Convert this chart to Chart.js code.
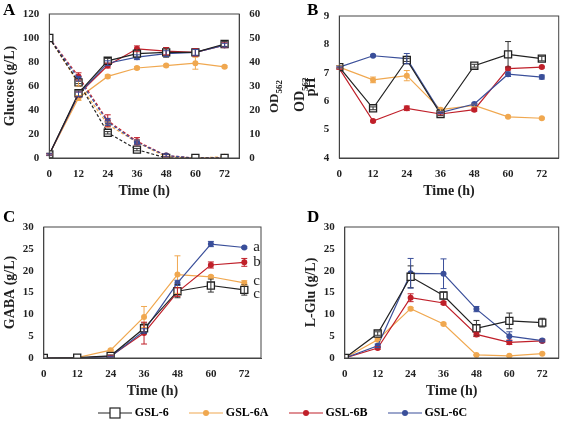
<!DOCTYPE html>
<html><head><meta charset="utf-8">
<script src="https://cdn.jsdelivr.net/npm/chart.js@4"></script>
<style>
body{margin:0;background:#fff;font-family:"Liberation Serif",serif;}
.p{position:absolute;}
.lab{position:absolute;font:bold 17px "Liberation Serif";}
.rot{position:absolute;transform:rotate(-90deg);transform-origin:left top;font:bold 14px 'Liberation Serif';white-space:nowrap;color:#222}
#legend{position:absolute;left:0;width:565px;text-align:center;font:bold 12px "Liberation Serif";}
</style></head><body>
<div class="p" style="left:0;top:0;width:283px;height:200px"><canvas id="cA"></canvas></div>
<div class="p" style="left:283px;top:0;width:282px;height:200px"><canvas id="cB"></canvas></div>
<div class="p" style="left:0;top:205px;width:283px;height:195px"><canvas id="cC"></canvas></div>
<div class="p" style="left:283px;top:205px;width:282px;height:195px"><canvas id="cD"></canvas></div>
<div class="lab" style="left:3px;top:0">A</div>
<div class="lab" style="left:307px;top:0">B</div>
<div class="lab" style="left:3px;top:207px">C</div>
<div class="lab" style="left:307px;top:207px">D</div>
<div class="rot" style="left:292px;top:112px">OD<sub style="font-size:9px">562</sub></div>
<div class="rot" style="left:266px;top:113px;font-size:13px">OD<sub style="font-size:9px">562</sub></div>
<div id="legend" style="top:405px"></div>
<script>
const times=[0,12,24,36,48,60,72];
const names=['GSL-6','GSL-6A','GSL-6B','GSL-6C'];
const colors=['#222222','#f0a850','#c0202a','#3a4f9a'];
// A: glucose (g/L) and OD562
const gluc6=[100,63,21,7,0,0,0], gluc6A=[100,62,28,13,1,0,1], gluc6B=[100,68,31,14,2,0,0], gluc6C=[100,66,30,13,2,0,0];
const od6=[1.5,27,40.5,43.5,44,44,47.5], od6A=[1.5,25,34,37.5,38.5,39.5,38], od6B=[1.5,26.5,38.5,45.5,44.5,44,47], od6C=[1.5,26.5,39.5,42,43.5,44,47];
const odErr6=[0.5,1,1,1.5,2,1.5,1], odErrA=[0.3,1,0.6,0.5,0.5,2.5,0.4], odErrB=[0.3,1,1,1.2,1.5,1.5,1], odErrC=[0.3,1,1,1,1.2,1.2,0.8];
const glucErr6=[0,1,1,1,0,0,0], glucErrA=[0,2,2,2,0.5,0,0], glucErrB=[0,3,5,3,1,0,0], glucErrC=[0,2,3,2,1,0,0];
// B: pH
const ph6=[7.2,5.75,7.45,5.55,7.25,7.65,7.5], ph6A=[7.2,6.75,6.9,5.7,5.85,5.45,5.4], ph6B=[7.15,5.3,5.75,5.55,5.7,7.15,7.2], ph6C=[7.2,7.6,7.5,5.6,5.9,6.95,6.85];
const phErr6=[0.05,0.05,0.05,0.05,0.05,0.45,0.08], phErrA=[0.05,0.1,0.18,0.05,0.05,0.03,0.03], phErrB=[0.03,0.03,0.08,0.03,0.05,0.05,0.03], phErrC=[0.03,0.03,0.18,0.03,0.03,0.08,0.07];
// C: GABA
const gaba6=[0,0.1,0.5,6.8,15.3,16.6,15.6], gaba6A=[0,0.1,1.8,9.4,19.1,18.6,17.2], gaba6B=[0,0,0.4,5.7,15.1,21.3,21.9], gaba6C=[0,0,0.3,6.2,17.2,26.1,25.3];
const gabaErr6=[0,0,0.2,1.2,1.5,1.5,1.2], gabaErrA=[0,0,0.2,2.4,4.3,0.3,0.5], gabaErrB=[0,0,0.2,2.5,1,0.7,0.9], gabaErrC=[0,0,0.1,0.5,0.6,0.6,0.2];
const sigLetters=['c','c','b','a'];
// D: L-Glu
const glu6=[0,5.6,18.6,14.3,6.8,8.5,8.1], glu6A=[0,4.2,11.3,7.8,0.7,0.5,1.0], glu6B=[0,2.3,13.8,12.6,5.4,3.6,3.9], glu6C=[0,2.8,19.4,19.3,11.2,5.0,4.0];
const gluErr6=[0,0.4,2.5,0.8,1.8,1.8,1.0], gluErrA=[0,0.2,0.3,0.2,0.1,0.1,0.1], gluErrB=[0,0.3,0.9,0.3,0.5,0.5,0.3], gluErrC=[0,0.4,3.4,3.4,0.6,1.0,0.3];

const F={family:'Liberation Serif',weight:'bold',size:11};
function ds(i,vals,err,axis,dash){
  return {label:names[i],data:times.map((t,k)=>({x:t,y:vals[k]})),err:err,yAxisID:axis||'y',
    borderColor:colors[i],backgroundColor:i==0?'#fff':colors[i],borderWidth:1.2,borderDash:dash||[],
    pointStyle:i==0?'rect':'circle',pointRadius:i==0?5:3,pointBorderWidth:i==0?1.3:0,pointBorderColor:colors[i],order:i==0?0:4-i};
}
const errPlugin={id:'err',afterDatasetsDraw(ch){const c=ch.ctx;
  ch.data.datasets.forEach((d,di)=>{if(!d.err)return;const ys=ch.scales[d.yAxisID];
    c.save();c.strokeStyle=d.borderColor==='#222222'?'#333':d.borderColor;c.lineWidth=1;
    d.data.forEach((p,k)=>{const e=d.err[k];if(!e)return;const x=ch.scales.x.getPixelForValue(p.x);
      const y1=ys.getPixelForValue(p.y+e),y2=ys.getPixelForValue(p.y-e);
      c.beginPath();c.moveTo(x,y1);c.lineTo(x,y2);c.moveTo(x-3,y1);c.lineTo(x+3,y1);c.moveTo(x-3,y2);c.lineTo(x+3,y2);c.stroke();});
    c.restore();});
  const a=ch.chartArea;c.save();c.strokeStyle='#444';c.lineWidth=1;c.strokeRect(a.left,a.top,a.right-a.left,a.bottom-a.top);c.restore();
  if(ch.options.letters){c.save();c.font='15px Liberation Serif';c.fillStyle='#222';c.textBaseline='middle';
    const off=[4,-2,0,0];
    ch.data.datasets.forEach((d,di)=>{const p=d.data[6];c.fillText(ch.options.letters[di],ch.scales.x.getPixelForValue(72)+9,ch.scales.y.getPixelForValue(p.y)+off[di]);});c.restore();}
}};
function mk(id,datasets,ymax,ystep,ymin,ytitle,extra,pad){
  const scales={x:{type:'linear',min:0,max:78,grid:{display:false},border:{color:'#444'},
      afterBuildTicks:s=>{s.ticks=times.map(v=>({value:v}));},
      ticks:{font:F,color:'#222',padding:2},title:{display:true,text:'Time (h)',font:{family:'Liberation Serif',weight:'bold',size:14},color:'#222',padding:0}},
    y:{min:ymin,max:ymax,grid:{display:false},border:{color:'#444'},ticks:{stepSize:ystep,font:F,color:'#222',padding:2},
      title:{display:true,text:ytitle,font:{family:'Liberation Serif',weight:'bold',size:14},color:'#222',padding:2}}};
  Object.assign(scales,extra||{});
  return new Chart(document.getElementById(id),{type:'line',data:{datasets},plugins:[errPlugin],
    options:{animation:false,responsive:true,maintainAspectRatio:false,letters:pad.letters,
      layout:{padding:{top:pad.t,right:pad.r,left:pad.l||0,bottom:0}},plugins:{legend:{display:false},tooltip:{enabled:false}},scales}});
}
mk('cA',[ds(0,od6,odErr6,'y2'),ds(1,od6A,odErrA,'y2'),ds(2,od6B,odErrB,'y2'),ds(3,od6C,odErrC,'y2'),
  ds(0,gluc6,glucErr6,'y',[3,2]),ds(1,gluc6A,glucErrA,'y',[3,2]),ds(2,gluc6B,glucErrB,'y',[3,2]),ds(3,gluc6C,glucErrC,'y',[3,2])],
  120,20,0,'Glucose (g/L)',{y2:{position:'right',min:0,max:60,grid:{display:false},border:{color:'#444'},ticks:{stepSize:10,font:F,color:'#222',padding:2},
    title:{display:true,text:' ',font:{family:'Liberation Serif',weight:'bold',size:14},padding:2}}},{t:14,r:0});
mk('cB',[ds(0,ph6,phErr6),ds(1,ph6A,phErrA),ds(2,ph6B,phErrB),ds(3,ph6C,phErrC)],9,1,4,'pH',null,{t:16,r:5,l:18});
mk('cC',[ds(0,gaba6,gabaErr6),ds(1,gaba6A,gabaErrA),ds(2,gaba6B,gabaErrB),ds(3,gaba6C,gabaErrC)],30,5,0,'GABA (g/L)',null,{t:22,r:22,letters:sigLetters});
mk('cD',[ds(0,glu6,gluErr6),ds(1,glu6A,gluErrA),ds(2,glu6B,gluErrB),ds(3,glu6C,gluErrC)],30,5,0,'L-Glu (g/L)',null,{t:22,r:2,l:18});
const lg=document.getElementById('legend');
names.forEach((n,i)=>{const cv=document.createElement('canvas');cv.width=34;cv.height=12;cv.style.verticalAlign='middle';
  const c=cv.getContext('2d');c.strokeStyle=colors[i];c.lineWidth=1.2;c.beginPath();c.moveTo(0,6);c.lineTo(34,6);c.stroke();
  if(i==0){c.fillStyle='#fff';c.fillRect(12,1,10,10);c.strokeRect(12,1,10,10);}else{c.fillStyle=colors[i];c.beginPath();c.arc(17,6,3,0,7);c.fill();}
  const s=document.createElement('span');s.style.margin='0 10px';s.appendChild(cv);s.appendChild(document.createTextNode(' '+n));lg.appendChild(s);});
</script></body></html>
